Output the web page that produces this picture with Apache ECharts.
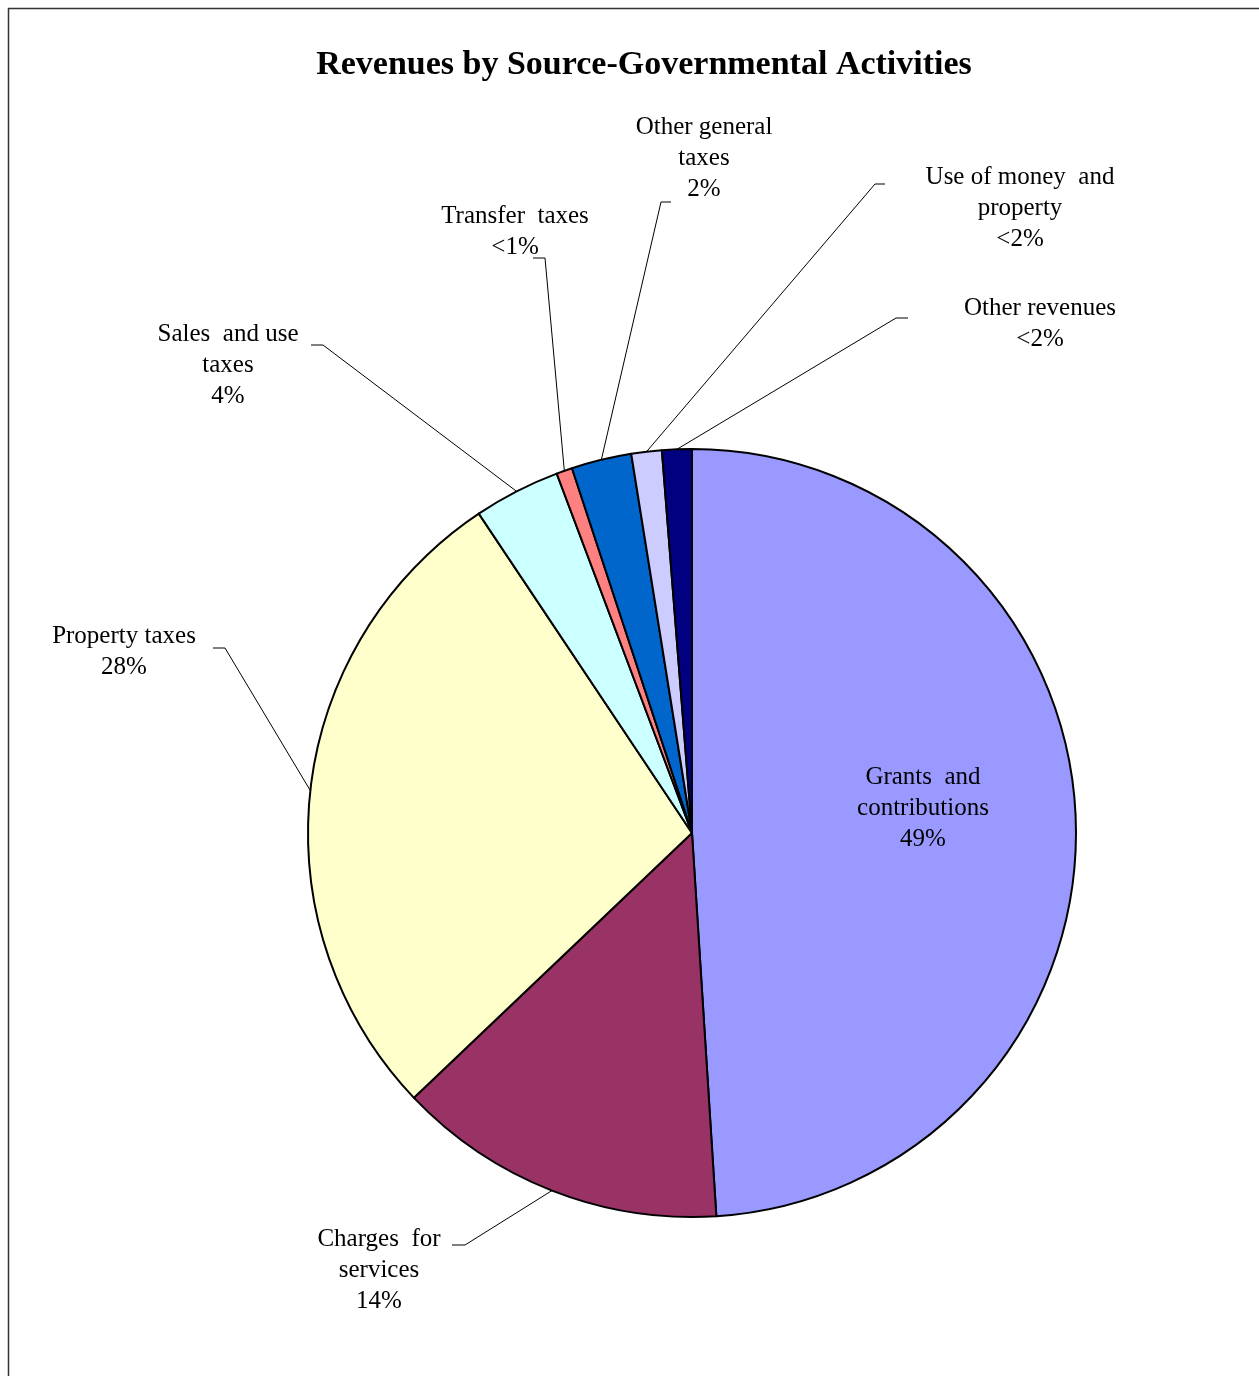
<!DOCTYPE html>
<html>
<head>
<meta charset="utf-8">
<title>Revenues by Source-Governmental Activities</title>
<script src="https://cdn.jsdelivr.net/npm/echarts@6/dist/echarts.min.js"></script>
<style>
  html, body { margin: 0; padding: 0; background: #fff; }
  #chart { width: 1259px; height: 1376px; }
</style>
</head>
<body>
<div id="chart"></div>
<script>
// slice data, clockwise from 12 o'clock
const names = ['Grants and contributions', 'Charges for services', 'Property taxes', 'Sales and use taxes',
  'Transfer taxes', 'Other general taxes', 'Use of money and property', 'Other revenues'];
const shares = [49.0, 13.9, 27.75, 3.64, 0.67, 2.53, 1.28, 1.25];
const pctText = ['49%', '14%', '28%', '4%', '<1%', '2%', '<2%', '<2%'];
const wrapped = ['Grants  and\ncontributions', 'Charges  for\nservices', 'Property taxes', 'Sales  and use\ntaxes',
  'Transfer  taxes', 'Other general\ntaxes', 'Use of money  and\nproperty', 'Other revenues'];
const colors = ['#9999FF', '#993366', '#FFFFCC', '#CCFFFF', '#FF8080', '#0066CC', '#CCCCFF', '#000080'];

// where each label sits: [textX, textY, elbowX, elbowY, stubX]
const labelSpots = [
  [923, 808],
  [379, 1270, 465, 1245, 452],
  [124, 652, 225, 648, 213],
  [228, 365, 323, 345, 311],
  [515, 232, 545, 258, 533],
  [704, 158, 661, 202, 671],
  [1020, 208, 875, 184, 885],
  [1040, 324, 896, 318, 908]
];

const chart = echarts.init(document.getElementById('chart'));
const serif = "'Liberation Serif', 'DejaVu Serif', serif";

const option = {
  animation: false,
  backgroundColor: '#fff',
  graphic: [
    {
      type: 'rect',
      shape: { x: 8.5, y: 8.5, width: 1400, height: 1400 },
      style: { fill: 'none', stroke: '#333', lineWidth: 1.5 },
      silent: true
    },
    {
      type: 'text',
      x: 644,
      y: 65,
      style: {
        text: 'Revenues by Source-Governmental Activities',
        align: 'center',
        verticalAlign: 'middle',
        font: "bold 34px 'Liberation Serif', serif",
        fill: '#000'
      }
    }
  ],
  series: [
    {
      type: 'pie',
      center: [692, 833],
      radius: 384,
      startAngle: 90,
      clockwise: true,
      avoidLabelOverlap: false,
      emphasis: { disabled: true },
      itemStyle: { borderColor: '#000', borderWidth: 2 },
      label: {
        show: true,
        position: 'outside',
        formatter: p => wrapped[p.dataIndex] + '\n' + pctText[p.dataIndex],
        fontFamily: serif,
        fontSize: 25,
        lineHeight: 31,
        color: '#000',
        align: 'center'
      },
      labelLine: { show: true, lineStyle: { color: '#000', width: 1 } },
      labelLayout: function (p) {
        const s = labelSpots[p.dataIndex];
        const out = { x: s[0], y: s[1], align: 'center', verticalAlign: 'middle' };
        if (s.length > 2 && p.labelLinePoints) {
          const start = p.labelLinePoints[0];
          out.labelLinePoints = [start, [s[2], s[3]], [s[4], s[3]]];
        }
        return out;
      },
      data: names.map((n, i) => ({
        name: n,
        value: shares[i],
        itemStyle: { color: colors[i] },
        label: i === 0 ? { position: 'inside' } : undefined
      }))
    }
  ]
};

chart.setOption(option);
</script>
</body>
</html>
